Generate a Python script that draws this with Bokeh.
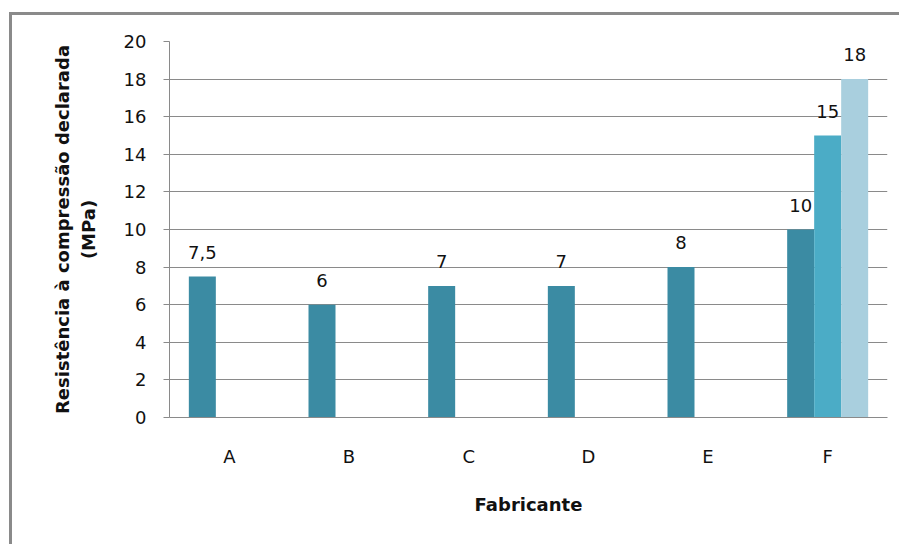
from bokeh.plotting import figure
from bokeh.models import FactorRange, Range1d, ColumnDataSource, LabelSet, SingleIntervalTicker
from bokeh.transform import dodge
from bokeh.core.properties import value
from bokeh.embed import file_html
from bokeh.resources import INLINE

categories = ["A", "B", "C", "D", "E", "F"]
serie1 = [7.5, 6, 7, 7, 8, 10]
serie1_labels = ["7,5", "6", "7", "7", "8", "10"]
serie2_cats = ["F"]
serie2 = [15]
serie2_labels = ["15"]
serie3_cats = ["F"]
serie3 = [18]
serie3_labels = ["18"]
y_title = "Resistência à compressão declarada\n(MPa)"
x_title = "Fabricante"

FONT = "DejaVu Sans"
GRAY = "#8a8a8a"
C1, C2, C3 = "#3b8ba3", "#4bacc6", "#a9cfde"
W = 0.2256

p = figure(width=899, height=544, x_range=FactorRange(*categories, range_padding=0),
           y_range=Range1d(0, 20), output_backend="svg", toolbar_location=None,
           min_border_left=169, min_border_right=12, min_border_top=41, min_border_bottom=127)
p.outline_line_color = None
p.background_fill_color = "white"
p.border_fill_color = None
p.styles = {
    "background-color": "white",
    "background-image": "linear-gradient(#8a8a8a, #8a8a8a), linear-gradient(#8a8a8a, #8a8a8a)",
    "background-size": "3px 100%, 100% 3px",
    "background-position": "9px 12px, 9px 12px",
    "background-repeat": "no-repeat",
}

s1 = ColumnDataSource(dict(x=categories, y=serie1, t=serie1_labels))
s2 = ColumnDataSource(dict(x=serie2_cats, y=serie2, t=serie2_labels))
s3 = ColumnDataSource(dict(x=serie3_cats, y=serie3, t=serie3_labels))

for src, off, col in [(s1, -W, C1), (s2, 0, C2), (s3, W, C3)]:
    xx = dodge("x", off, range=p.x_range)
    p.vbar(x=xx, top="y", width=W, source=src, fill_color=col, line_color=None)
    p.add_layout(LabelSet(x=xx, y="y", text="t", source=src, text_align="center",
                          text_baseline="alphabetic", y_offset=18, text_font=value(FONT),
                          text_font_size="18px", text_color="#111111"))

p.yaxis.ticker = SingleIntervalTicker(interval=2)
p.ygrid.ticker = SingleIntervalTicker(interval=2)
p.ygrid.grid_line_color = GRAY
p.xgrid.grid_line_color = None

p.yaxis.axis_line_color = GRAY
p.yaxis.major_tick_line_color = GRAY
p.yaxis.major_tick_out = 6
p.yaxis.major_tick_in = 0
p.yaxis.minor_tick_line_color = None
p.yaxis.major_label_standoff = 17
p.yaxis.major_label_text_font = FONT
p.yaxis.major_label_text_font_size = "18px"
p.yaxis.major_label_text_color = "#111111"
p.yaxis.axis_label = y_title
p.yaxis.axis_label_text_font = FONT
p.yaxis.axis_label_text_font_style = "bold"
p.yaxis.axis_label_text_font_size = "18px"
p.yaxis.axis_label_text_color = "#111111"
p.yaxis.axis_label_standoff = 22

p.xaxis.axis_line_color = GRAY
p.xaxis.major_tick_line_color = None
p.xaxis.minor_tick_line_color = None
p.xaxis.major_label_standoff = 22
p.xaxis.major_label_text_font = FONT
p.xaxis.major_label_text_font_size = "18px"
p.xaxis.major_label_text_color = "#111111"
p.xaxis.axis_label = x_title
p.xaxis.axis_label_text_font = FONT
p.xaxis.axis_label_text_font_style = "bold"
p.xaxis.axis_label_text_font_size = "18px"
p.xaxis.axis_label_text_color = "#111111"
p.xaxis.axis_label_standoff = 24

open("out.html", "w").write(file_html(p, INLINE))
